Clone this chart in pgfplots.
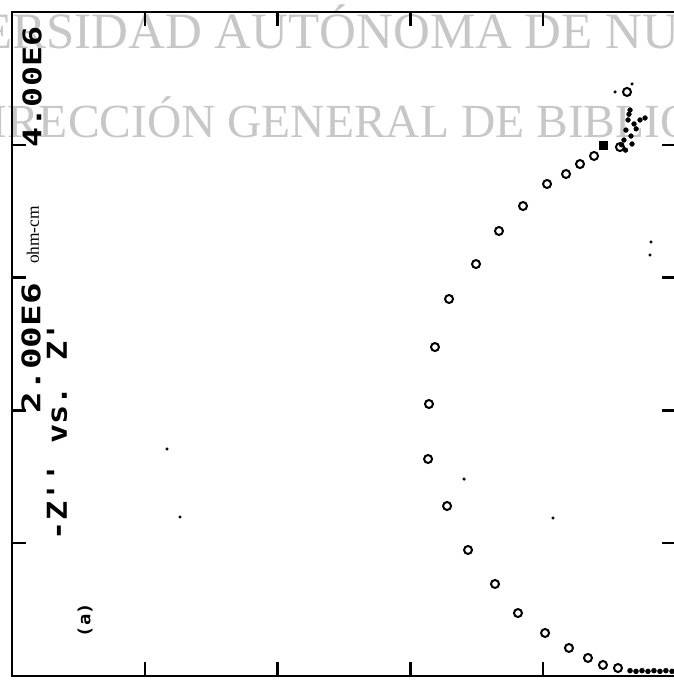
\documentclass[border=0pt]{standalone}
\usepackage{fontspec}
\setmainfont{Liberation Serif}
\newfontfamily\plotfont{DejaVu Sans Mono}
\usepackage{pgfplots}
\pgfplotsset{compat=1.18}
\begin{document}
\begin{tikzpicture}[x=1pt,y=1pt]
% watermark
\node[anchor=base west, inner sep=0, text=black!22] at (-158.6,627) {\fontsize{51}{51}\selectfont UNIVERSIDAD AUTÓNOMA DE NUEVO LEÓN};
\node[anchor=base west, inner sep=0, text=black!22] at (-55,538) {\fontsize{47.5}{47.5}\selectfont DIRECCIÓN GENERAL DE BIBLIOTECAS};
\begin{axis}[at={(0,0)}, anchor=south west, scale only axis,
  width=664pt, height=664pt,
  xmin=0, xmax=5, ymin=0, ymax=5,
  xtick={1,2,3,4}, ytick={1,2,3,4},
  xticklabels={}, yticklabels={},
  major tick length=14pt,
  tick style={line width=2.5pt, black},
  axis line style={line width=2.5pt},
  clip=false]
% main arc (hollow markers)
\addplot[only marks, mark=o, mark size=4pt, line width=2pt] coordinates {
(4.563,0.060) (4.450,0.083) (4.337,0.136) (4.194,0.211) (4.014,0.324)
(3.810,0.474) (3.637,0.693) (3.434,0.949) (3.276,1.280) (3.133,1.634)
(3.140,2.048) (3.185,2.477) (3.291,2.839) (3.494,3.102) (3.667,3.351)
(3.848,3.539) (4.029,3.705) (4.172,3.780) (4.277,3.855) (4.383,3.916)
(4.578,3.983) (4.631,4.398)
};
% filled square
\addplot[only marks, mark=square*, mark size=4pt] coordinates {(4.450,3.998)};
% cluster near the top end
\addplot[only marks, mark=*, mark size=2.4pt] coordinates {
(4.654,4.262) (4.639,4.187) (4.684,4.157) (4.623,4.111) (4.661,4.066)
(4.729,4.187) (4.608,4.036) (4.669,4.006) (4.767,4.202) (4.646,4.230)
(4.700,4.120) (4.590,4.000) (4.620,3.960)
};
% bottom end cluster
\addplot[only marks, mark=*, mark size=2.5pt] coordinates {
(4.654,0.040) (4.699,0.035) (4.744,0.040) (4.789,0.035) (4.834,0.040)
(4.879,0.035) (4.924,0.040) (4.970,0.035)
};
% stray dots
\addplot[only marks, mark=*, mark size=1.4pt] coordinates {
(4.669,4.458) (4.541,4.398) (1.167,1.709) (1.265,1.197) (3.404,1.483)
(4.074,1.190) (4.812,3.268) (4.804,3.170)
};
\end{axis}
% labels (rotated)
\node[rotate=90, inner sep=0] at (20,589) {\resizebox{120pt}{19pt}{\plotfont\bfseries 4.00E6}};
\node[rotate=90, inner sep=0] at (19,328) {\resizebox{130pt}{19pt}{\plotfont\bfseries 2.00E6}};
\node[rotate=90, inner sep=0] at (45,245) {\resizebox{218pt}{20pt}{\plotfont\bfseries -Z'' vs. Z'}};
\node[rotate=90, inner sep=0] at (21,441) {\resizebox{58pt}{!}{\fontsize{10}{10}\selectfont ohm-cm}};
\node[rotate=90, inner sep=0] at (73,56) {\resizebox*{34pt}{15pt}{\plotfont\bfseries (a)}};
\pgfresetboundingbox
\useasboundingbox (-12,-4) rectangle (661,676);
\end{tikzpicture}
\end{document}
